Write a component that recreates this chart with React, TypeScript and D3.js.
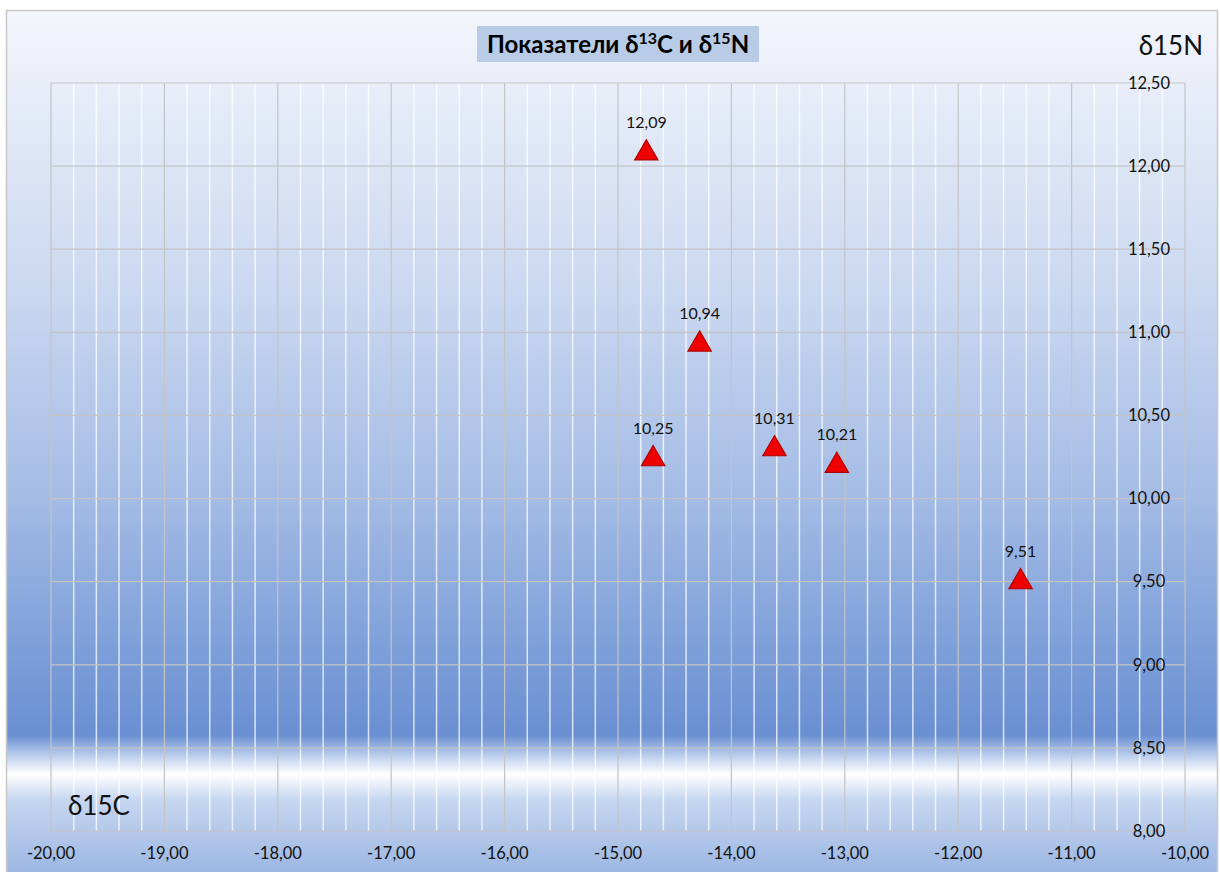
import React from "react";
import * as d3 from "d3";

const xValues = [-14.75, -14.28, -14.69, -13.62, -13.07, -11.45];
const yValues = [12.09, 10.94, 10.25, 10.31, 10.21, 9.51];
const xTicks = [-20, -19, -18, -17, -16, -15, -14, -13, -12, -11, -10];
const yTicks = [8, 8.5, 9, 9.5, 10, 10.5, 11, 11.5, 12, 12.5];
const titleMain = "Показатели δ";
const yAxisName = "δ15N";
const xAxisName = "δ15C";

const W = 1220;
const H = 872;
const plot = { left: 51, right: 1185, top: 83, bottom: 831 };

const fmt = (v: number) => d3.format(".2f")(v).replace(".", ",").replace("−", "-");

export default function App() {
  const x = d3.scaleLinear().domain([-20, -10]).range([plot.left, plot.right]);
  const y = d3.scaleLinear().domain([8, 12.5]).range([plot.bottom, plot.top]);
  const minorX = d3.range(-20, -10.0001, 0.2).filter((v) => Math.abs(v - Math.round(v)) > 0.01);
  const tri = d3.symbol(d3.symbolTriangle, 235)();
  const font = "Lato, 'Open Sans', sans-serif";

  return (
    <svg width={W} height={H} style={{ display: "block", position: "absolute", left: 0, top: 0 }}>
      <defs>
        <linearGradient id="bg" x1="0" y1="0" x2="0" y2="1" gradientUnits="userSpaceOnUse"
          gradientTransform={`translate(0,10) scale(1,${H - 10})`}>
          <stop offset="0" stopColor="#f4f6fc" />
          <stop offset={(100 - 10) / 862} stopColor="#e6ecf8" />
          <stop offset={(300 - 10) / 862} stopColor="#c9d7f0" />
          <stop offset={(500 - 10) / 862} stopColor="#a3bbe5" />
          <stop offset={(650 - 10) / 862} stopColor="#7d9fd9" />
          <stop offset={(735 - 10) / 862} stopColor="#6a8fd2" />
          <stop offset={(758 - 10) / 862} stopColor="#c4d4ef" />
          <stop offset={(774 - 10) / 862} stopColor="#ffffff" />
          <stop offset={(800 - 10) / 862} stopColor="#c6d6f0" />
          <stop offset="1" stopColor="#9db7e3" />
        </linearGradient>
      </defs>
      <rect x={6.5} y={10.5} width={1211} height={H} fill="url(#bg)" stroke="#c8c8c8" strokeWidth={1.5} />

      {/* title */}
      <rect x={477} y={26} width={282} height={36} fill="#b8cce8" />
      <text x={618} y={53} textAnchor="middle" fontFamily={font} fontWeight="bold" fontSize={24} fill="#000">
        {titleMain}
        <tspan fontSize={16} dy={-9}>13</tspan>
        <tspan dy={9}>C и δ</tspan>
        <tspan fontSize={16} dy={-9}>15</tspan>
        <tspan dy={9}>N</tspan>
      </text>

      {/* minor vertical gridlines */}
      {minorX.map((v, i) => (
        <line key={"mx" + i} x1={x(v)} x2={x(v)} y1={plot.top} y2={plot.bottom} stroke="#ffffff" strokeOpacity={0.75} strokeWidth={1.5} />
      ))}
      {/* major vertical gridlines */}
      {xTicks.map((v) => (
        <line key={"vx" + v} x1={x(v)} x2={x(v)} y1={plot.top} y2={plot.bottom} stroke="#c4c4c4" strokeWidth={1.2} />
      ))}
      {/* horizontal gridlines */}
      {yTicks.map((v) => (
        <line key={"hy" + v} x1={plot.left} x2={plot.right} y1={y(v)} y2={y(v)} stroke="#c4c4c4" strokeWidth={1.2} />
      ))}

      {/* y tick labels */}
      {yTicks.map((v) => (
        <text key={"yl" + v} x={1149} y={y(v)} dy="0.35em" textAnchor="middle" fontFamily={font} fontSize={16.5} fill="#111">
          {fmt(v)}
        </text>
      ))}
      {/* x tick labels */}
      {xTicks.map((v) => (
        <text key={"xl" + v} x={x(v)} y={859} textAnchor="middle" fontFamily={font} fontSize={16.5} fill="#111">
          {fmt(v)}
        </text>
      ))}

      {/* axis names */}
      <text x={1203} y={55} textAnchor="end" fontFamily={font} fontSize={26} fill="#111">{yAxisName}</text>
      <text x={68} y={815} fontFamily={font} fontSize={26} fill="#111">{xAxisName}</text>

      {/* points */}
      {xValues.map((xv, i) => (
        <g key={"p" + i}>
          <path d={tri || ""} transform={`translate(${x(xv)},${y(yValues[i]) + 2})`} fill="#ee0000" stroke="#b00000" strokeWidth={1.2} />
          <text x={x(xv)} y={y(yValues[i]) - 29} dy="0.35em" textAnchor="middle" fontFamily={font} fontSize={16} fill="#111">
            {fmt(yValues[i])}
          </text>
        </g>
      ))}
    </svg>
  );
}
